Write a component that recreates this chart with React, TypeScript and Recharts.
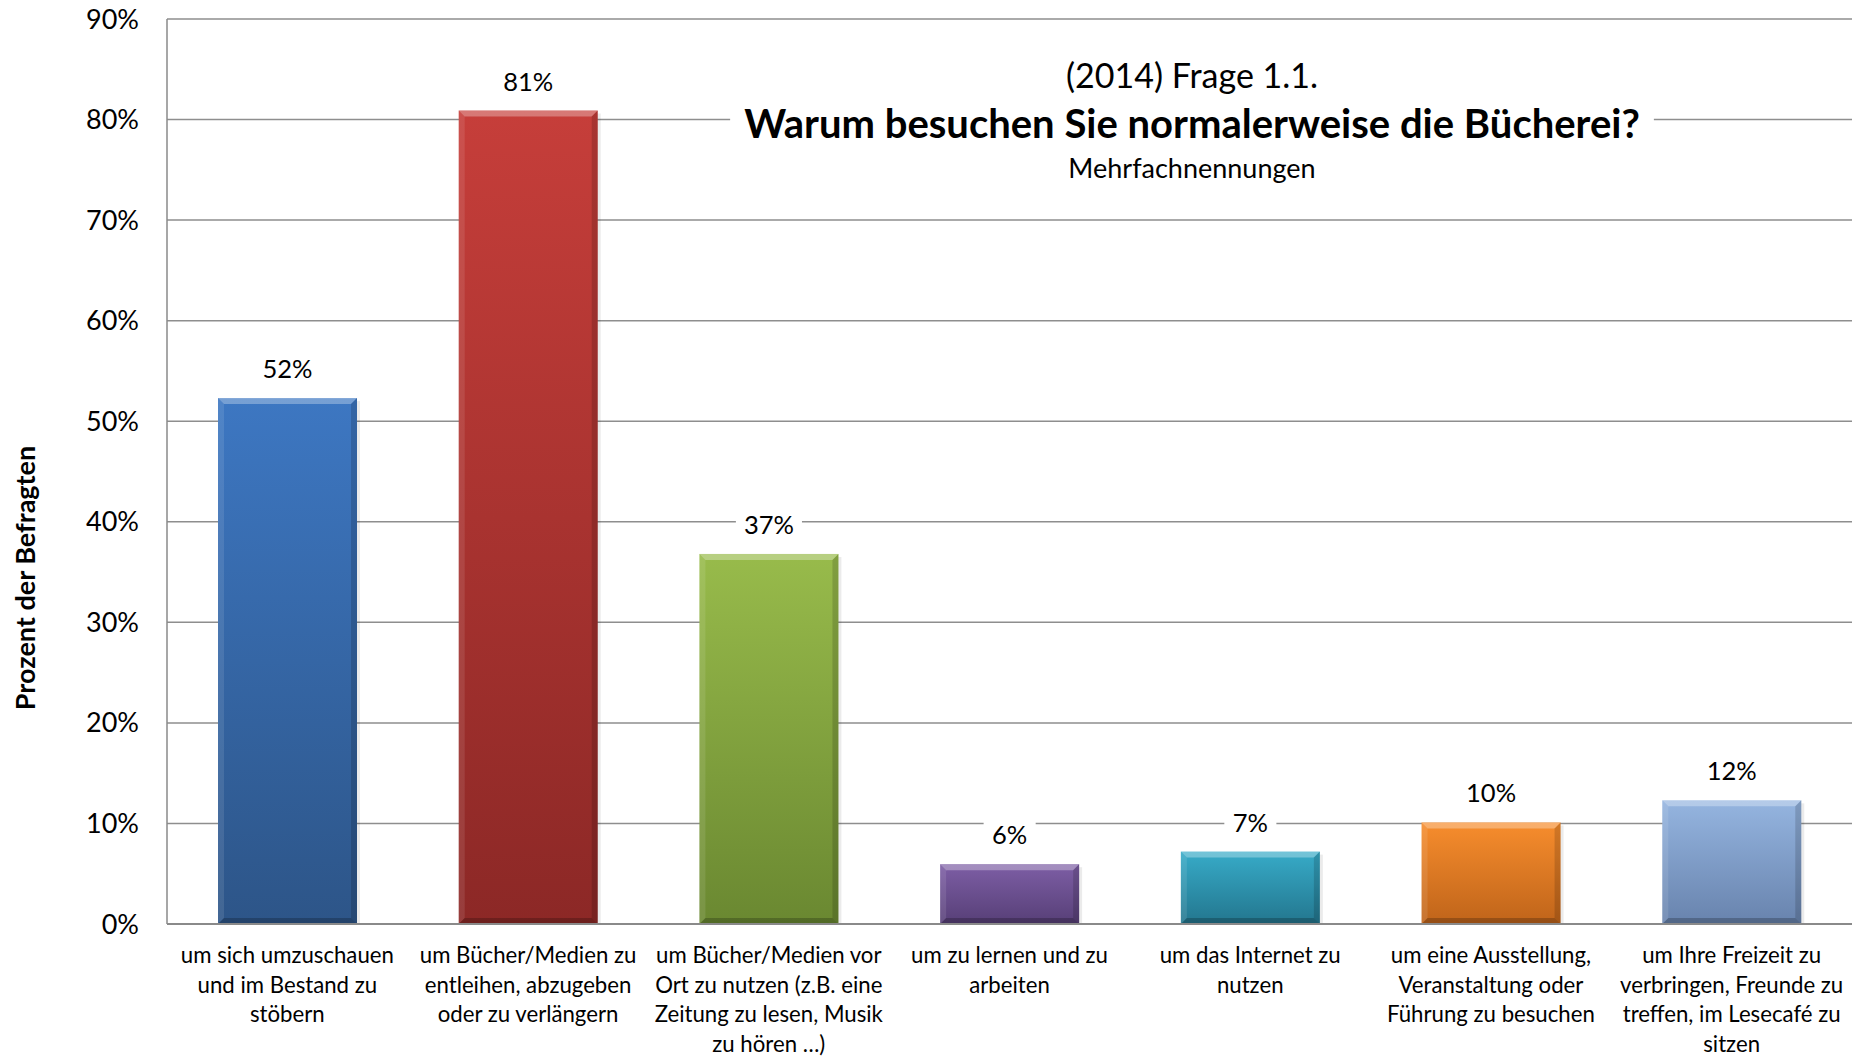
import React, { useLayoutEffect, useRef, useState } from "react";
import { BarChart, Bar, XAxis, YAxis, CartesianGrid, LabelList } from "recharts";

const categoryLines: string[][] = [
  ["um sich umzuschauen", "und im Bestand zu", "stöbern"],
  ["um Bücher/Medien zu", "entleihen, abzugeben", "oder zu verlängern"],
  ["um Bücher/Medien vor", "Ort zu nutzen (z.B. eine", "Zeitung zu lesen, Musik", "zu hören …)"],
  ["um zu lernen und zu", "arbeiten"],
  ["um das Internet zu", "nutzen"],
  ["um eine Ausstellung,", "Veranstaltung oder", "Führung zu besuchen"],
  ["um Ihre Freizeit zu", "verbringen, Freunde zu", "treffen, im Lesecafé zu", "sitzen"],
];
const values: number[] = [52.3, 80.9, 36.8, 5.95, 7.2, 10.1, 12.3];
const valueLabels: string[] = ["52%", "81%", "37%", "6%", "7%", "10%", "12%"];
const yTicks: number[] = [0, 10, 20, 30, 40, 50, 60, 70, 80, 90];
const topColors: string[] = ["#3d77c2", "#c63e3a", "#98bb4b", "#7d5ea5", "#37abc8", "#f78d2d", "#95b5e0"];
const bottomColors: string[] = ["#2d5588", "#8c2826", "#6a8831", "#573f77", "#23768e", "#bf641a", "#6883ad"];

const titleLine1 = "(2014) Frage 1.1.";
const titleLine2 = "Warum besuchen Sie normalerweise die Bücherei?";
const titleLine3 = "Mehrfachnennungen";
const yAxisTitle = "Prozent der Befragten";

const data = categoryLines.map((lines, i) => ({
  name: lines.join(" "),
  lines,
  value: values[i],
  label: valueLabels[i],
}));

const FONT = "Lato, 'Open Sans', sans-serif";

const BevelBar = (props: any) => {
  const { x, y, width, height, index } = props;
  if (height <= 0) return null;
  const b = 6;
  const id = `grad-${index}`;
  return (
    <g>
      <defs>
        <linearGradient id={id} x1="0" y1="0" x2="0" y2="1">
          <stop offset="0%" stopColor={topColors[index]} />
          <stop offset="100%" stopColor={bottomColors[index]} />
        </linearGradient>
      </defs>
      <rect x={x + 3} y={y + 3} width={width} height={height - 3} fill="#000" opacity={0.08} />
      <rect x={x} y={y} width={width} height={height} fill={`url(#${id})`} />
      <polygon
        points={`${x},${y} ${x + width},${y} ${x + width - b},${y + b} ${x + b},${y + b}`}
        fill="#fff"
        opacity={0.3}
      />
      <polygon
        points={`${x},${y} ${x + b},${y + b} ${x + b},${y + height - b} ${x},${y + height}`}
        fill="#fff"
        opacity={0.1}
      />
      <polygon
        points={`${x + width},${y} ${x + width - b},${y + b} ${x + width - b},${y + height - b} ${x + width},${y + height}`}
        fill="#000"
        opacity={0.15}
      />
      <polygon
        points={`${x},${y + height} ${x + b},${y + height - b} ${x + width - b},${y + height - b} ${x + width},${y + height}`}
        fill="#000"
        opacity={0.22}
      />
    </g>
  );
};

const ValueLabel = (props: any) => {
  const { x, y, width, value } = props;
  const cx = x + width / 2;
  const baseline = y - 20;
  const fs = 25.5;
  const w = String(value).length * fs * 0.55 + 24;
  return (
    <g>
      <rect x={cx - w / 2} y={baseline - 27} width={w} height={35} fill="#fff" />
      <text x={cx} y={baseline} textAnchor="middle" fontSize={fs} fontFamily={FONT} fill="#000">
        {value}
      </text>
    </g>
  );
};

const CategoryTick = (props: any) => {
  const { x, y, index } = props;
  const lines = categoryLines[index] || [];
  return (
    <g transform={`translate(${x},${y})`}>
      {lines.map((l, i) => (
        <text
          key={i}
          x={0}
          y={39 + i * 29.6}
          textAnchor="middle"
          fontSize={22.2}
          fontFamily={FONT}
          fill="#000"
        >
          {l}
        </text>
      ))}
    </g>
  );
};

const Overlay = () => {
  const ref = useRef<SVGTextElement>(null);
  const [w, setW] = useState(900);
  useLayoutEffect(() => {
    if (ref.current) setW(ref.current.getComputedTextLength());
  }, []);
  const cx = 1192;
  return (
    <svg
      width={1857}
      height={1056}
      style={{ position: "absolute", left: 0, top: 0, pointerEvents: "none" }}
    >
      <text x={cx} y={88} textAnchor="middle" fontSize={34} fontFamily={FONT} fill="#000">
        {titleLine1}
      </text>
      <rect x={cx - w / 2 - 14} y={100} width={w + 28} height={48} fill="#fff" />
      <text
        ref={ref}
        x={cx}
        y={138}
        textAnchor="middle"
        fontSize={40}
        fontWeight="bold"
        fontFamily={FONT}
        fill="#000"
      >
        {titleLine2}
      </text>
      <text x={cx} y={178} textAnchor="middle" fontSize={27} fontFamily={FONT} fill="#000">
        {titleLine3}
      </text>
      <text
        x={0}
        y={0}
        transform="translate(35,578) rotate(-90)"
        textAnchor="middle"
        fontSize={27}
        fontWeight="bold"
        fontFamily={FONT}
        fill="#000"
      >
        {yAxisTitle}
      </text>
    </svg>
  );
};

export default function App() {
  return (
    <div style={{ position: "relative", width: 1857, height: 1056, background: "#fff" }}>
      <style>{`body{margin:0;}`}</style>
      <BarChart
        width={1857}
        height={1056}
        data={data}
        margin={{ top: 19, right: 5, bottom: 12, left: 0 }}
      >
        <CartesianGrid vertical={false} stroke="#8e8e8e" strokeWidth={1.5} />
        <XAxis
          dataKey="name"
          height={120}
          tickSize={0}
          tickMargin={0}
          interval={0}
          tick={<CategoryTick />}
          axisLine={{ stroke: "#8a8a8a", strokeWidth: 2 }}
          tickLine={false}
        />
        <YAxis
          width={167}
          domain={[0, 90]}
          ticks={yTicks}
          tickFormatter={(v: number) => `${v}%`}
          tickSize={0}
          tickMargin={28}
          tickLine={false}
          axisLine={{ stroke: "#8a8a8a", strokeWidth: 1.5 }}
          tick={{ fontSize: 27, fontFamily: FONT, fill: "#000" }}
          interval={0}
        />
        <Bar dataKey="value" barSize={139} isAnimationActive={false} shape={<BevelBar />}>
          <LabelList dataKey="label" content={<ValueLabel />} />
        </Bar>
      </BarChart>
      <Overlay />
    </div>
  );
}
